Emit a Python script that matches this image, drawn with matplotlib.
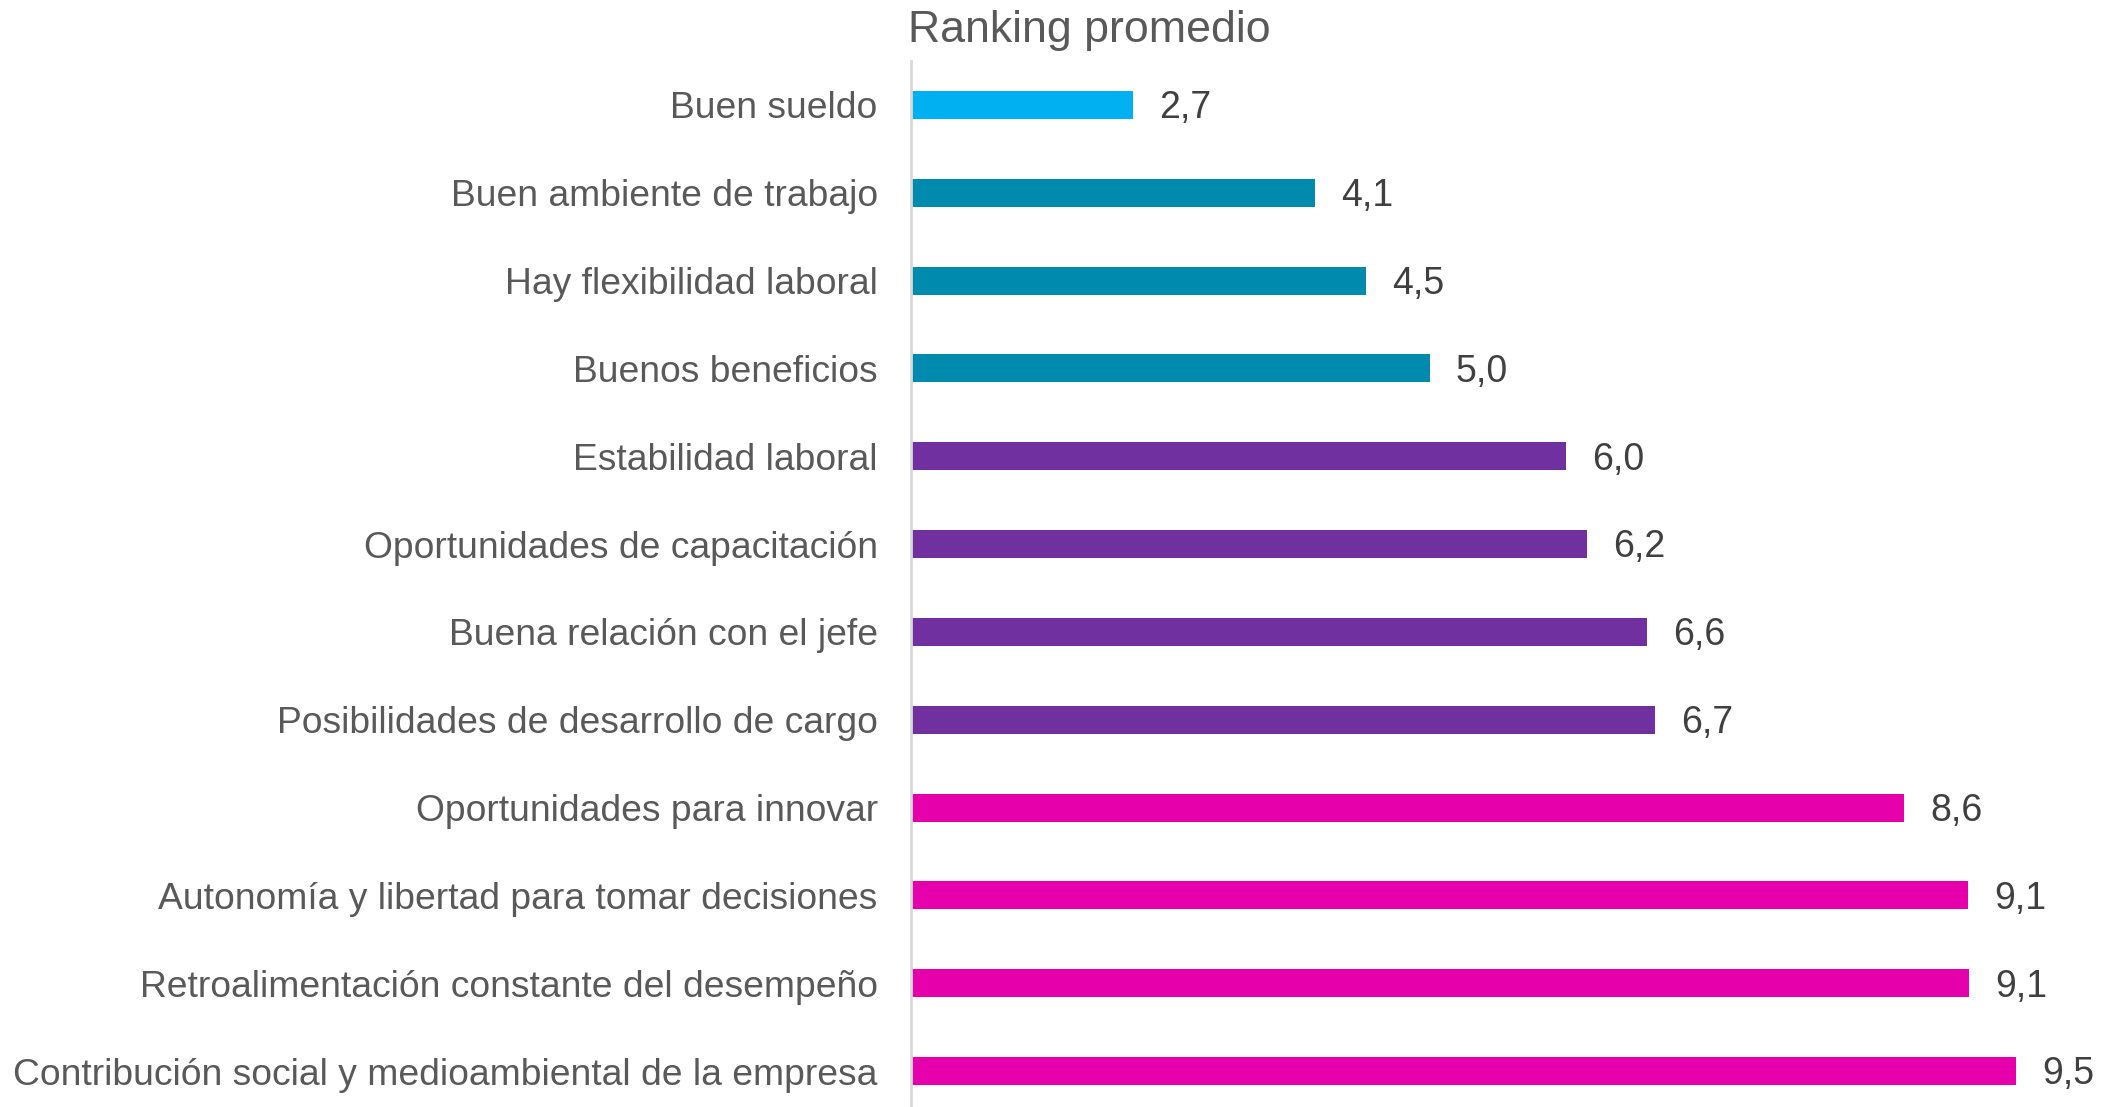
import matplotlib
matplotlib.use("Agg")
from matplotlib import pyplot as plt
import numpy as np

categorias = [
    "Buen sueldo",
    "Buen ambiente de trabajo",
    "Hay flexibilidad laboral",
    "Buenos beneficios",
    "Estabilidad laboral",
    "Oportunidades de capacitación",
    "Buena relación con el jefe",
    "Posibilidades de desarrollo de cargo",
    "Oportunidades para innovar",
    "Autonomía y libertad para tomar decisiones",
    "Retroalimentación constante del desempeño",
    "Contribución social y medioambiental de la empresa",
]
# valores estimados del grafico (etiquetas redondeadas a 1 decimal)
valores = [2.70, 4.09, 4.48, 4.97, 6.01, 6.17, 6.63, 6.69, 8.60, 9.09, 9.10, 9.46]
colores = ["#00B0F0", "#008AAD", "#008AAD", "#008AAD",
           "#7030A0", "#7030A0", "#7030A0", "#7030A0",
           "#E600AC", "#E600AC", "#E600AC", "#E600AC"]

plt.rcParams['font.family'] = ['Liberation Sans', 'DejaVu Sans']

fig = plt.figure(figsize=(21.03, 11.07), dpi=100)
ax = fig.add_axes([0.4332, -0.0072, 0.5592, 0.9521])

y = np.arange(len(categorias))
ax.barh(y, np.array(valores) - 1, left=1, height=0.32, color=colores)

for yi, v in zip(y, valores):
    ax.text(v + 0.2, yi + 0.152, f"{v:.1f}".replace(".", ","), va="baseline", ha="left",
            fontsize=27, color="#404040")

ax.set_xlim(1, 10)
ax.set_ylim(len(categorias) - 0.5, -0.5)
ax.set_yticks(y)
ax.set_yticklabels(categorias, fontsize=26.8, color="#595959")
ax.tick_params(axis="y", length=0, pad=24)
ax.set_xticks([])
for s in ["top", "right", "bottom"]:
    ax.spines[s].set_visible(False)
ax.spines["left"].set_color("#D9D9D9")
ax.spines["left"].set_linewidth(2)

fig.text(0.4318, 0.962, "Ranking promedio", fontsize=32.2, color="#595959",
         ha="left", va="baseline")

fig.savefig("out.png", dpi=100)
